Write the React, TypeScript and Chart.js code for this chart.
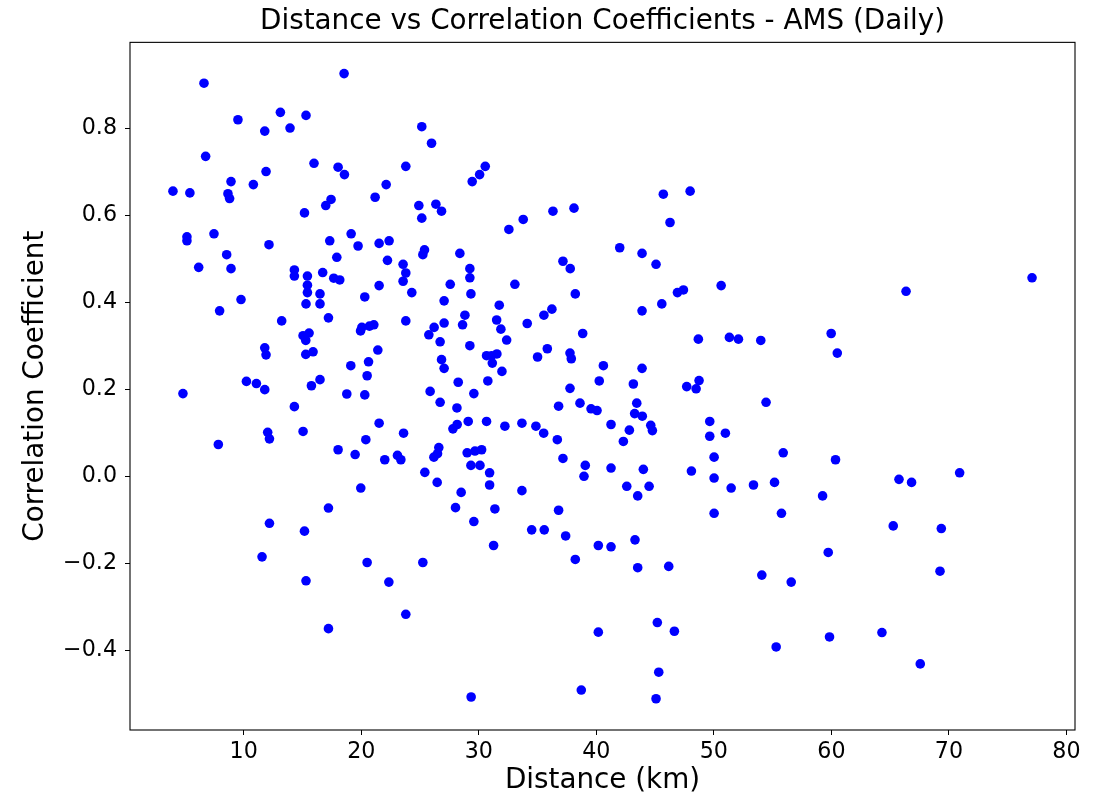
import React, { useEffect, useRef } from "react";
import { Chart, registerables } from "chart.js";

Chart.register(...registerables);

// Distance between stations (km)
const distanceKm = [
  6.62, 18.54, 9.51, 13.12, 15.3, 11.79, 13.94, 6.76, 15.98, 18.03,
  18.57, 11.9, 8.92, 10.82, 3.98, 5.42, 8.66, 8.8, 17.43, 16.98,
  15.17, 7.47, 5.17, 5.17, 19.14, 12.15, 17.32, 19.73, 8.55, 17.92,
  6.17, 8.92,
  25.15, 25.98, 23.79, 30.55, 30.07, 29.44, 22.12, 21.18, 24.9, 26.35,
  26.83, 25.15, 38.1, 36.31, 33.78, 32.56, 21.52, 22.37, 25.38, 25.24,
  28.39, 22.23, 23.56, 23.79, 29.24, 29.24, 37.16, 37.78,
  45.7, 47.98, 46.27, 41.99, 43.89, 45.08, 77.07,
  14.31, 14.31, 15.42, 16.72, 17.66, 18.17, 15.42, 15.42, 16.49, 20.3,
  9.77, 15.3, 16.49, 7.95, 13.23, 17.21, 20.05, 19.94, 20.7, 15.05,
  15.56, 15.28, 11.79, 11.9, 15.28, 15.9, 19.11, 20.62, 20.5, 10.23,
  11.08, 11.79, 4.83, 15.76, 16.49, 18.77, 20.3, 14.31, 12.04, 12.19,
  15.05, 20.39, 7.84, 18.03, 19.48, 19.96,
  23.56, 21.52, 24.3, 27.57, 29.33, 33.07, 38.21, 27.05, 31.74, 23.79,
  21.07, 28.82, 28.62, 27.05, 26.2, 25.75, 26.71, 31.52, 31.88, 32.37,
  34.12, 35.54, 36.22, 38.84, 21.41, 29.24, 26.83, 27.05, 30.66, 31.09,
  31.54, 31.15, 31.97, 30.77, 28.25, 35.0, 35.83, 37.76, 37.87, 40.6,
  40.25, 37.76, 25.86, 29.58, 26.71, 28.14, 36.79, 38.61, 39.55, 40.06,
  21.52, 23.6, 29.1, 28.16, 27.8, 30.66, 32.22, 33.67, 34.86, 35.52,
  36.68, 22.0, 23.08, 23.37, 26.6, 26.49, 26.18, 29.01, 29.67, 30.24,
  29.33, 30.1, 30.92, 37.16, 39.06, 38.95, 25.41, 26.46, 28.5, 30.92,
  33.67,
  46.9, 47.41, 50.62, 45.57, 43.89, 48.68, 51.32, 52.09, 53.99, 59.98,
  60.5, 43.89, 43.15, 47.69, 48.74, 48.49, 54.44, 43.44, 43.26, 43.91,
  41.25, 42.81, 44.63, 44.77, 42.3, 49.65, 49.65, 50.98, 50.02, 55.9,
  60.35, 41.25, 44.0, 42.59, 43.52, 44.49, 48.09, 50.02, 51.47, 53.37,
  55.16, 59.25,
  66.35, 65.75, 66.82, 70.91,
  17.21, 12.19, 15.17, 11.56, 20.5, 15.3, 17.21,
  28.02, 31.37, 29.58, 36.79, 34.5, 35.57, 37.39, 31.26, 40.17, 38.21,
  25.24, 22.35, 23.79, 40.17, 38.72, 29.35,
  50.02, 55.75, 41.25, 43.29, 43.52, 46.16, 59.73, 54.08, 56.58, 45.19,
  46.64, 59.84, 55.3, 45.31, 45.08,
  65.26, 69.35, 69.24, 64.3, 67.56,
];

// Correlation coefficient for each pair (same order as distanceKm)
const correlation = [
  0.903, 0.925, 0.819, 0.836, 0.829, 0.793, 0.8, 0.735, 0.719, 0.71,
  0.693, 0.7, 0.677, 0.67, 0.655, 0.651, 0.649, 0.638, 0.636, 0.622,
  0.605, 0.557, 0.55, 0.541, 0.557, 0.532, 0.541, 0.529, 0.509, 0.503,
  0.48, 0.477,
  0.803, 0.765, 0.712, 0.712, 0.693, 0.677, 0.67, 0.641, 0.622, 0.625,
  0.609, 0.593, 0.616, 0.609, 0.59, 0.567, 0.535, 0.541, 0.52, 0.509,
  0.512, 0.496, 0.487, 0.467, 0.477, 0.456, 0.494, 0.477,
  0.648, 0.655, 0.583, 0.525, 0.512, 0.487, 0.456,
  0.474, 0.46, 0.46, 0.468, 0.455, 0.451, 0.439, 0.422, 0.419, 0.412,
  0.406, 0.396, 0.396, 0.38, 0.357, 0.364, 0.342, 0.334, 0.345, 0.323,
  0.329, 0.312, 0.295, 0.279, 0.28, 0.286, 0.254, 0.263, 0.231, 0.218,
  0.213, 0.199, 0.19, 0.208, 0.222, 0.189, 0.187, 0.16, 0.101, 0.086,
  0.103, 0.084, 0.073, 0.061, 0.05, -0.027,
  0.448, 0.438, 0.422, 0.441, 0.419, 0.441, 0.419, 0.403, 0.393, 0.357,
  0.348, 0.37, 0.348, 0.352, 0.342, 0.325, 0.309, 0.359, 0.338, 0.313,
  0.351, 0.37, 0.384, 0.328, 0.29, 0.3, 0.268, 0.248, 0.277, 0.277,
  0.281, 0.26, 0.241, 0.219, 0.216, 0.274, 0.293, 0.283, 0.27, 0.254,
  0.219, 0.202, 0.195, 0.19, 0.17, 0.157, 0.161, 0.168, 0.155, 0.151,
  0.122, 0.099, 0.126, 0.119, 0.109, 0.126, 0.115, 0.122, 0.115, 0.099,
  0.084, 0.038, 0.048, 0.038, 0.066, 0.052, 0.044, 0.054, 0.058, 0.061,
  0.025, 0.025, 0.008, 0.041, 0.025, 0.0, 0.009, -0.014, -0.037, -0.02,
  -0.033,
  0.422, 0.428, 0.438, 0.396, 0.38, 0.315, 0.319, 0.315, 0.312, 0.328,
  0.283, 0.248, 0.212, 0.206, 0.22, 0.201, 0.17, 0.168, 0.144, 0.138,
  0.119, 0.106, 0.117, 0.105, 0.08, 0.126, 0.092, 0.099, 0.044, 0.054,
  0.038, 0.019, 0.016, -0.023, -0.045, -0.023, 0.012, -0.004, -0.027, -0.02,
  -0.014, -0.045,
  0.425, -0.007, -0.014, 0.008,
  -0.073, -0.108, -0.126, -0.185, -0.198, -0.24, -0.35,
  -0.072, -0.075, -0.104, -0.078, -0.123, -0.123, -0.137, -0.159, -0.159, -0.191,
  -0.198, -0.243, -0.317, -0.358, -0.491, -0.507,
  -0.085, -0.085, -0.162, -0.146, -0.21, -0.207, -0.175, -0.227, -0.243, -0.336,
  -0.356, -0.369, -0.392, -0.45, -0.511,
  -0.114, -0.12, -0.218, -0.359, -0.431,
];

const xTickValues = [10, 20, 30, 40, 50, 60, 70, 80];
const yTickValues = [-0.4, -0.2, 0.0, 0.2, 0.4, 0.6, 0.8];

const chartTitle = "Distance vs Correlation Coefficients - AMS (Daily)";
const xLabel = "Distance (km)";
const yLabel = "Correlation Coefficient";

const FONT = "'DejaVu Sans', 'Liberation Sans', sans-serif";
const TICK_SIZE = 22.2;
const LABEL_SIZE = 27.8;

function paddedRange(values: number[]): [number, number] {
  const lo = Math.min(...values);
  const hi = Math.max(...values);
  const m = (hi - lo) * 0.05;
  return [lo - m, hi + m];
}

const framePlugin = {
  id: "frame",
  afterDatasetsDraw(chart: any) {
    const { ctx, chartArea: a } = chart;
    ctx.save();
    ctx.strokeStyle = "#000";
    ctx.lineWidth = 1.1;
    ctx.strokeRect(a.left, a.top, a.right - a.left, a.bottom - a.top);
    ctx.restore();
  },
};

const fmt = (v: number, digits: number) =>
  (Math.abs(v) < 1e-9 ? 0 : v).toFixed(digits).replace("-", "\u2212");

export default function App() {
  const canvasRef = useRef<HTMLCanvasElement | null>(null);

  useEffect(() => {
    const canvas = canvasRef.current;
    if (!canvas) return;
    const [xMin, xMax] = paddedRange(distanceKm);
    const [yMin, yMax] = paddedRange(correlation);
    const points = distanceKm.map((x, i) => ({ x, y: correlation[i] }));

    const chart = new Chart(canvas, {
      type: "scatter",
      data: {
        datasets: [
          {
            data: points,
            backgroundColor: "#0000ff",
            borderWidth: 0,
            pointRadius: 4.8,
            pointHoverRadius: 4.8,
          },
        ],
      },
      options: {
        animation: false,
        responsive: false,
        devicePixelRatio: 1,
        layout: { padding: { left: 0, right: 32, top: 0, bottom: 0 } },
        plugins: {
          legend: { display: false },
          tooltip: { enabled: false },
          title: {
            display: true,
            text: chartTitle,
            fullSize: false,
            color: "#000",
            font: { family: FONT, size: LABEL_SIZE, weight: "normal" as any, lineHeight: 1.2 },
            padding: { top: 5, bottom: 4 },
          },
        },
        scales: {
          x: {
            type: "linear",
            min: xMin,
            max: xMax,
            afterBuildTicks: (scale: any) => {
              scale.ticks = xTickValues.map((v) => ({ value: v }));
            },
            afterFit: (scale: any) => {
              scale.height = 69;
            },
            grid: {
              display: true,
              drawOnChartArea: false,
              drawTicks: true,
              tickLength: 5,
              color: "#000",
              lineWidth: 1,
            },
            border: { display: false },
            ticks: {
              color: "#000",
              padding: 4,
              maxRotation: 0,
              autoSkip: false,
              font: { family: FONT, size: TICK_SIZE, lineHeight: 1.2 },
              callback: (v: any) => fmt(Number(v), 0),
            },
            title: {
              display: true,
              text: xLabel,
              color: "#000",
              font: { family: FONT, size: LABEL_SIZE, lineHeight: 1.2 },
              padding: { top: 0, bottom: 2 },
            },
          },
          y: {
            type: "linear",
            min: yMin,
            max: yMax,
            afterBuildTicks: (scale: any) => {
              scale.ticks = yTickValues.map((v) => ({ value: v }));
            },
            afterFit: (scale: any) => {
              scale.width = 130;
            },
            grid: {
              display: true,
              drawOnChartArea: false,
              drawTicks: true,
              tickLength: 5,
              color: "#000",
              lineWidth: 1,
            },
            border: { display: false },
            ticks: {
              color: "#000",
              padding: 8,
              autoSkip: false,
              font: { family: FONT, size: TICK_SIZE, lineHeight: 1.2 },
              callback: (v: any) => fmt(Number(v), 1),
            },
            title: {
              display: true,
              text: yLabel,
              color: "#000",
              font: { family: FONT, size: LABEL_SIZE, lineHeight: 1.2 },
              padding: { top: 19, bottom: 0 },
            },
          },
        },
      },
      plugins: [framePlugin],
    });

    return () => chart.destroy();
  }, []);

  return (
    <div
      style={{
        position: "absolute",
        left: 0,
        top: 0,
        width: 1107,
        height: 799,
        background: "#fff",
      }}
    >
      <canvas ref={canvasRef} width={1107} height={799} style={{ display: "block" }} />
    </div>
  );
}
